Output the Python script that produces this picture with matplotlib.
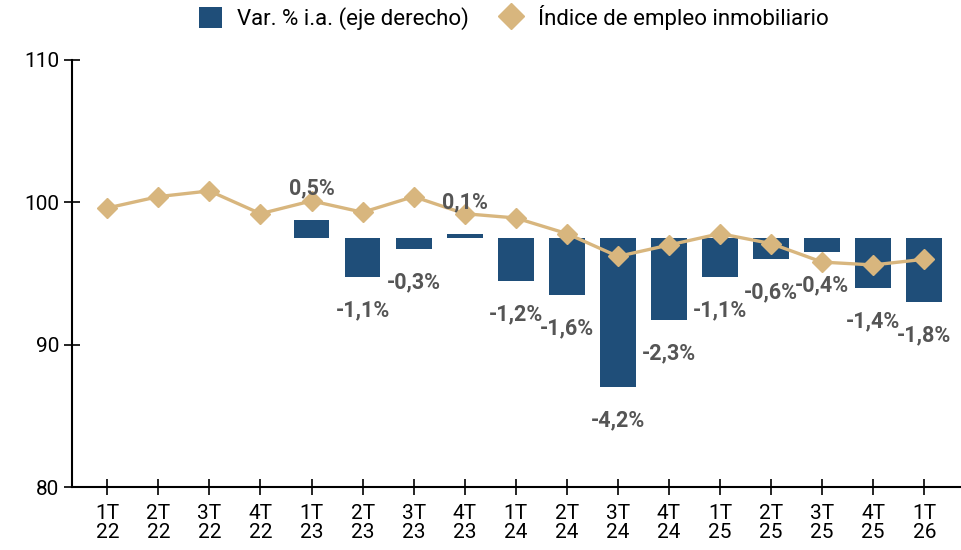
import matplotlib.pyplot as plt
from matplotlib.lines import Line2D
from matplotlib.patches import Patch

plt.rcParams['font.family'] = ['Roboto', 'DejaVu Sans']

# datos
trimestres = ['1T\n22', '2T\n22', '3T\n22', '4T\n22', '1T\n23', '2T\n23', '3T\n23', '4T\n23',
              '1T\n24', '2T\n24', '3T\n24', '4T\n24', '1T\n25', '2T\n25', '3T\n25', '4T\n25', '1T\n26']
indice = [99.6, 100.4, 100.8, 99.2, 100.1, 99.3, 100.4, 99.2,
          98.9, 97.8, 96.2, 97.0, 97.8, 97.1, 95.8, 95.6, 96.0]
# variacion interanual (sin dato en 2022)
var_ia = [None, None, None, None, 0.5, -1.1, -0.3, 0.1,
          -1.2, -1.6, -4.2, -2.3, -1.1, -0.6, -0.4, -1.4, -1.8]

azul = '#1F4E79'
dorado = '#D8B67E'
gris = '#555555'

fig = plt.figure(figsize=(9.61, 5.5), dpi=100)
ax = fig.add_axes([0.075, 0.1145, 0.924, 0.7765])
ax2 = ax.twinx()

x = list(range(len(trimestres)))

# barras en eje derecho
xb = [i for i, v in zip(x, var_ia) if v is not None]
vb = [v for v in var_ia if v is not None]
ax2.bar(xb, vb, width=0.7, color=azul, zorder=1)
ax2.set_ylim(-7, 5)
ax2.axis('off')

# linea del indice en eje izquierdo, por encima
ax.set_zorder(ax2.get_zorder() + 1)
ax.patch.set_visible(False)
ax.plot(x, indice, color=dorado, lw=2.4, marker='D', markersize=10, zorder=3)

# etiquetas de las barras
for i, v in zip(xb, vb):
    off = 23 if v > 0 else -24
    ax.annotate(f'{v:.1f}%'.replace('.', ','), xy=(i, v), xycoords=ax2.transData,
                xytext=(0, off), textcoords='offset points', ha='center', va='center',
                fontsize=15.5, fontweight='bold', color=gris, zorder=5)

ax.set_ylim(80, 110)
ax.set_yticks([80, 90, 100, 110])
ax.set_xlim(-0.69, 16.7)
ax.set_xticks(x)
ax.set_xticklabels(trimestres, linespacing=1.0)
ax.tick_params(axis='both', direction='inout', length=12, width=1.2, labelsize=15, colors='black')
ax.tick_params(axis='x', pad=6)
ax.tick_params(axis='y', pad=3)
ax.spines['top'].set_visible(False)
ax.spines['right'].set_visible(False)
ax.spines['left'].set_linewidth(1.5)
ax.spines['bottom'].set_linewidth(1.5)

handles = [Patch(facecolor=azul, label='Var. % i.a. (eje derecho)'),
           Line2D([], [], color=dorado, marker='D', markersize=13, lw=0, label='Índice de empleo inmobiliario')]
fig.legend(handles=handles, loc='center', bbox_to_anchor=(0.535, 0.968), ncol=2, frameon=False,
           fontsize=16, handlelength=1.0, handleheight=1.1, columnspacing=1.4, handletextpad=0.7)

plt.savefig('out.png', dpi=100)
